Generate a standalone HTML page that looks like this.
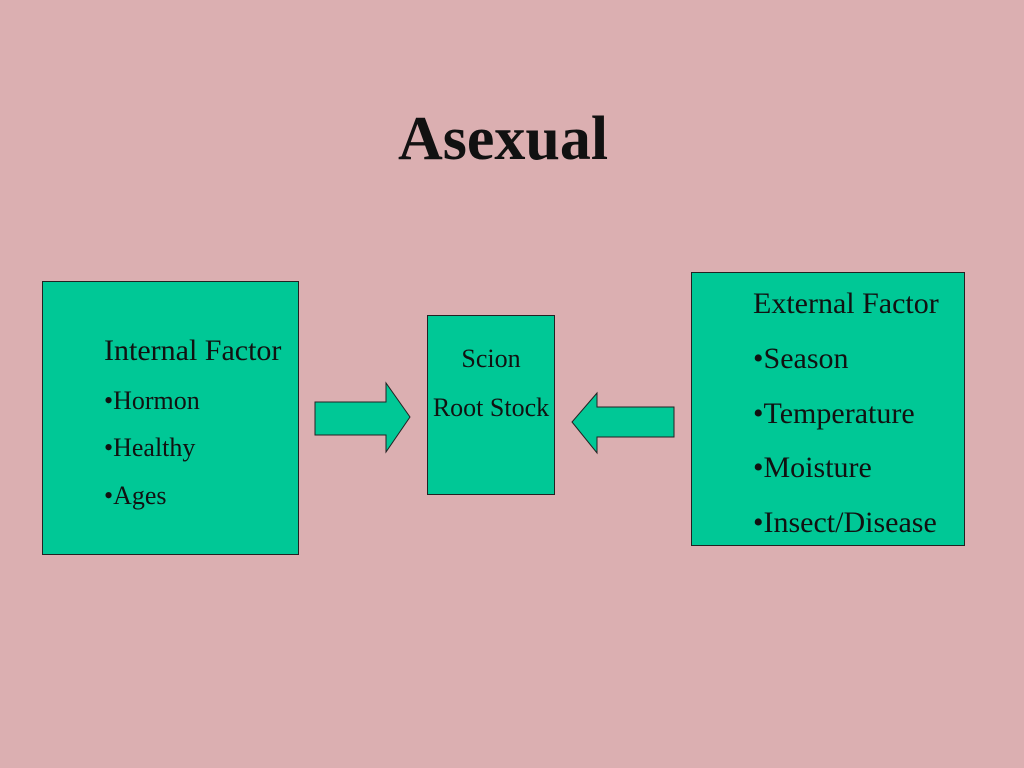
<!DOCTYPE html>
<html><head><meta charset="utf-8"><style>
body{margin:0;width:1024px;height:768px;background:#dbafb1;position:relative;overflow:hidden;font-family:"Liberation Serif","Times New Roman",serif;color:#111}
.b{position:absolute;background:#00c896;border:1px solid #222;box-sizing:border-box}
.t{position:absolute;white-space:nowrap;line-height:1}
</style></head><body>
<div class="t" style="left:398px;top:108px;font-size:62px;font-weight:bold;">Asexual</div>
<div class="b" style="left:42px;top:281px;width:257px;height:274px"></div>
<div class="t" style="left:104px;top:336px;font-size:30px">Internal Factor</div>
<div class="t" style="left:104px;top:388px;font-size:26px">•Hormon</div>
<div class="t" style="left:104px;top:435px;font-size:26px">•Healthy</div>
<div class="t" style="left:104px;top:483px;font-size:26px">•Ages</div>
<div class="b" style="left:427px;top:315px;width:128px;height:180px"></div>
<div class="t" style="left:427px;top:346px;width:128px;text-align:center;font-size:26px">Scion</div>
<div class="t" style="left:427px;top:395px;width:128px;text-align:center;font-size:26px">Root Stock</div>
<div class="b" style="left:691px;top:272px;width:274px;height:274px"></div>
<div class="t" style="left:753px;top:289px;font-size:30px">External Factor</div>
<div class="t" style="left:753px;top:344px;font-size:30px">•Season</div>
<div class="t" style="left:753px;top:399px;font-size:30px">•Temperature</div>
<div class="t" style="left:753px;top:453px;font-size:30px">•Moisture</div>
<div class="t" style="left:753px;top:508px;font-size:30px">•Insect/Disease</div>
<svg width="1024" height="768" style="position:absolute;left:0;top:0">
<polygon points="315,402 386,402 386,383 410,417 386,452 386,435 315,435" fill="#00c896" stroke="#222" stroke-width="1"/>
<polygon points="674,407 597,407 597,393 572,422 597,453 597,437 674,437" fill="#00c896" stroke="#222" stroke-width="1"/>
</svg>
</body></html>
